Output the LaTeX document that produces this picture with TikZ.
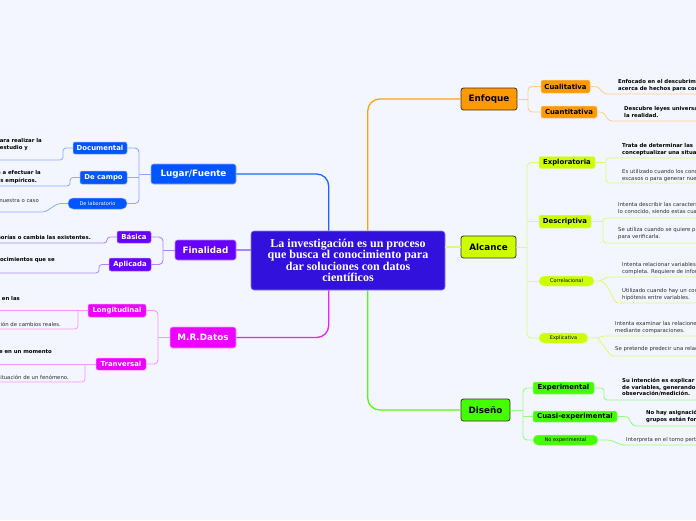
\documentclass[tikz,border=0pt]{standalone}
\usepackage{fontspec}
\setmainfont{DejaVu Sans}
\newfontfamily\cserif{Liberation Serif}
\definecolor{bg}{RGB}{243,246,254}
\definecolor{cen}{RGB}{51,17,221}
\definecolor{cenB}{RGB}{140,120,240}
\definecolor{blu}{RGB}{0,85,255}
\definecolor{bluL}{RGB}{140,170,255}
\definecolor{pur}{RGB}{102,0,255}
\definecolor{purL}{RGB}{175,130,255}
\definecolor{mag}{RGB}{236,0,255}
\definecolor{magL}{RGB}{246,150,255}
\definecolor{ora}{RGB}{255,153,0}
\definecolor{oraL}{RGB}{255,205,145}
\definecolor{yg}{RGB}{204,255,0}
\definecolor{ygL}{RGB}{222,250,120}
\definecolor{grn}{RGB}{68,255,0}
\definecolor{grnL}{RGB}{150,250,130}
\definecolor{dk}{RGB}{60,50,40}
\definecolor{txt}{RGB}{45,45,45}
\tikzset{
  mainbox/.style={rounded corners=2.5pt, inner sep=0pt, line width=0.6pt, font=\fontsize{8.8}{10}\selectfont\bfseries},
  subbox/.style={rounded corners=2pt, inner sep=0pt, line width=0.5pt, font=\fontsize{6.9}{8}\selectfont\bfseries},
  pillbox/.style={rounded corners=5pt, inner sep=0pt, line width=0.5pt, font=\fontsize{5}{6}\selectfont},
  dtxt/.style={inner sep=0pt, align=left, anchor=north west, text=txt, font=\fontsize{5.35}{6.5}\selectfont},
  dtxtb/.style={dtxt, text=black, font=\fontsize{5.35}{6.5}\selectfont\bfseries},
  ltxt/.style={inner sep=0pt, anchor=east, text=txt, font=\fontsize{5.35}{6}\selectfont},
  ltxtb/.style={ltxt, text=black, font=\fontsize{5.35}{6}\selectfont\bfseries},
  mc/.style={line width=1.3pt, rounded corners=12pt},
  sc/.style={line width=0.9pt, rounded corners=4pt},
  dc/.style={line width=0.8pt, rounded corners=3pt}
}
\begin{document}
\begin{tikzpicture}[x=1pt,y=-1pt]
\path[use as bounding box] (0,0) rectangle (696,520);
\clip (0,0) rectangle (696,520);
\fill[bg] (0,0) rectangle (696,520);

% central node
\node[fill=cen, draw=cenB, line width=0.6pt, rounded corners=3pt, minimum width=194pt, minimum height=59pt, inner sep=0pt, text=white, align=center, font=\cserif\bfseries\fontsize{12}{11.5}\selectfont] (center) at (348,260.5) {La investigación es un proceso\\que busca el conocimiento para\\dar soluciones con datos\\científicos};

% main nodes
\node[mainbox, fill=blu, draw=bluL, text=white, minimum width=85pt, minimum height=20pt] (lug) at (193.5,174) {Lugar/Fuente};
\node[mainbox, fill=pur, draw=purL, text=white, minimum width=61pt, minimum height=20pt] (fin) at (205.5,250) {Finalidad};
\node[mainbox, fill=mag, draw=magL, text=white, minimum width=66pt, minimum height=21pt] (mrd) at (203,337.5) {M.R.Datos};
\node[mainbox, fill=ora, draw=dk, line width=0.8pt, text=black, minimum width=56pt, minimum height=22pt] (enf) at (489,99) {Enfoque};
\node[mainbox, fill=yg, draw=dk, line width=0.8pt, text=black, minimum width=55pt, minimum height=22pt] (alc) at (488.5,247) {Alcance};
\node[mainbox, fill=grn, draw=dk, line width=0.8pt, text=black, minimum width=49pt, minimum height=22pt] (dis) at (485.5,410) {Diseño};

% main connectors
\draw[mc, blu!80!bluL] ([xshift=78pt]center.north west) |- (lug.east);
\draw[mc, ora!85!oraL] ([xshift=117pt]center.north west) |- (enf.west);
\draw[mc, mag!80!magL] ([xshift=78pt]center.south west) |- (mrd.east);
\draw[mc, grn!85!grnL] ([xshift=117pt]center.south west) |- (dis.west);
\draw[line width=1.1pt, purL] (fin.east) -- (fin.east -| center.west);
\draw[line width=1.1pt, ygL] (alc.west) -- (alc.west -| center.east);

% sub nodes right
\node[subbox, fill=ora, draw=oraL, minimum width=49pt, minimum height=13pt] (cual) at (565.5,86.5) {Cualitativa};
\node[subbox, fill=ora, draw=oraL, minimum width=56pt, minimum height=12pt] (cuan) at (569,112) {Cuantitativa};
\node[subbox, fill=yg, draw=ygL, minimum width=56pt, minimum height=12pt] (exr) at (567,162.5) {Exploratoria};
\node[subbox, fill=yg, draw=ygL, minimum width=52pt, minimum height=13pt] (des) at (565,221.5) {Descriptiva};
\node[pillbox, fill=yg, draw=ygL, minimum width=55pt, minimum height=10pt] (cor) at (566.5,281) {Correlacional};
\node[pillbox, fill=yg, draw=ygL, minimum width=49pt, minimum height=10pt] (expl) at (563.5,338) {Explicativa};
\node[subbox, fill=grn, draw=grnL, minimum width=61pt, minimum height=12pt] (exper) at (563.5,388) {Experimental};
\node[subbox, fill=grn, draw=grnL, minimum width=84pt, minimum height=11pt] (cuasi) at (575,416.5) {Cuasi-experimental};
\node[pillbox, fill=grn, draw=grnL, minimum width=65pt, minimum height=10pt] (noex) at (565.5,440) {No experimental};

% sub nodes left
\node[subbox, fill=blu, draw=bluL, text=white, minimum width=54pt, minimum height=12pt] (doc) at (100,148) {Documental};
\node[subbox, fill=blu, draw=bluL, text=white, minimum width=47pt, minimum height=13pt] (camp) at (103.5,177.5) {De campo};
\node[pillbox, fill=blu, draw=bluL, text=white, minimum width=59pt, minimum height=11pt] (lab) at (97.5,203.5) {De laboratorio};
\node[subbox, fill=pur, draw=purL, text=white, minimum width=34pt, minimum height=12pt] (bas) at (134,237) {Básica};
\node[subbox, fill=pur, draw=purL, text=white, minimum width=42pt, minimum height=13pt] (apl) at (130,264.5) {Aplicada};
\node[subbox, fill=mag, draw=magL, text=white, minimum width=58pt, minimum height=13pt] (lon) at (117,310.5) {Longitudinal};
\node[subbox, fill=mag, draw=magL, text=white, minimum width=50pt, minimum height=12pt] (tra) at (121,364) {Tranversal};

% bracket coordinates
\coordinate (enfB) at (528,99);
\coordinate (alcB) at (527,247);
\coordinate (disB) at (523,410);
\coordinate (lugB) at (139,174);
\coordinate (finB) at (163,250);
\coordinate (mrB) at (158,337.5);

% brackets
\draw[sc, oraL] (cual.west) -| (enfB) |- (cuan.west);
\draw[sc, oraL] (enf.east) -- (enfB);
\draw[sc, ygL] (exr.west) -| (alcB) |- (expl.west);
\draw[sc, ygL] (des.west) -- (des.west -| alcB);
\draw[sc, ygL] (cor.west) -- (cor.west -| alcB);
\draw[sc, ygL] (alc.east) -- (alcB);
\draw[sc, grnL] (exper.west) -| (disB) |- (noex.west);
\draw[sc, grnL] (cuasi.west) -- (cuasi.west -| disB);
\draw[sc, grnL] (dis.east) -- (disB);
\draw[sc, bluL] (doc.east) -| (lugB) |- (lab.east);
\draw[sc, bluL] (camp.east) -- (camp.east -| lugB);
\draw[sc, bluL] (lug.west) -- (lugB);
\draw[sc, purL] (bas.east) -| (finB) |- (apl.east);
\draw[sc, purL] (fin.west) -- (finB);
\draw[sc, magL] (lon.east) -| (mrB) |- (tra.east);
\draw[sc, magL] (mrd.west) -- (mrB);

% free ends right
\coordinate (cualE) at (700,94);
\coordinate (cuanE) at (700,121);
\coordinate (exrA) at (700,158);
\coordinate (exrB) at (700,183);
\coordinate (desA) at (700,218);
\coordinate (desB) at (700,243);
\coordinate (corA) at (700,277);
\coordinate (corB) at (700,303);
\coordinate (explA) at (700,336);
\coordinate (explB) at (700,356);
\coordinate (experE) at (700,400);
\coordinate (cuasiE) at (700,426);
\coordinate (noexE) at (700,445);

% detail connectors right
\draw[dc, oraL] (cual.east) -- (598,86.5) -- (604,94) -- (cualE);
\draw[dc, oraL] (cuan.east) -- (603,112) -- (609,121) -- (cuanE);
\draw[dc, ygL] (exr.east) -- (606,162.5);
\draw[dc, ygL] (exrA) -| (606,170) |- (exrB);
\draw[dc, ygL] (des.east) -- (603,221.5);
\draw[dc, ygL] (desA) -| (603,230) |- (desB);
\draw[dc, ygL] (cor.east) -- (601,281) -- (606,277) -- (corA);
\draw[dc, ygL] (601,281) -- (606,284) -- (616,303) -- (corB);
\draw[dc, ygL] (expl.east) -- (598,338) -- (602,336) -- (explA);
\draw[dc, ygL] (598,338) -- (611,356) -- (explB);
\draw[dc, grnL] (exper.east) -- (604,388) |- (experE);
\draw[dc, grnL] (cuasi.east) -- (628,416.5) -- (633,426) -- (cuasiE);
\draw[dc, grnL] (noex.east) -- (610,440) -- (622,445) -- (noexE);

% free ends left
\coordinate (docE) at (-5,160);
\coordinate (campE) at (-5,186);
\coordinate (labE) at (-5,212);
\coordinate (basE) at (-5,243);
\coordinate (aplE) at (-5,273);
\coordinate (lonA) at (-5,310.5);
\coordinate (lonB) at (-5,329);
\coordinate (traA) at (-5,364);
\coordinate (traB) at (-5,382);

% detail connectors left
\draw[dc, bluL] (doc.west) -- (63,148) |- (docE);
\draw[dc, bluL] (camp.west) -- (70,177.5) |- (campE);
\draw[dc, bluL] (lab.west) -- (58,203.5) -- (45,212) -- (labE);
\draw[dc, purL] (bas.west) -- (107,237) |- (basE);
\draw[dc, purL] (apl.west) -- (99,264.5) |- (aplE);
\draw[dc, magL] (lon.west) -- (lonA);
\draw[dc, magL] (78,310.5) |- (lonB);
\draw[dc, magL] (tra.west) -- (traA);
\draw[dc, magL] (85,364) |- (traB);

% detail texts right
\node[dtxtb] (tcual) at (618,79.5) {Enfocado en el descubrimiento\\acerca de hechos para comprender};
\node[dtxtb] (tcuan) at (624,106.5) {Descubre leyes universales\\la realidad.};
\node[dtxtb] (texr1) at (622,143.5) {Trata de determinar las\\conceptualizar una situación};
\node[dtxt] (texr2) at (622,169.5) {Es utilizado cuando los conocimientos\\escasos o para generar nuevas};
\node[dtxt] (tdes1) at (618,202.5) {Intenta describir las características\\lo conocido, siendo estas cualidades};
\node[dtxt] (tdes2) at (618,227.5) {Se utiliza cuando se quiere probar\\para verificarla.};
\node[dtxt] (tcor1) at (622,262.5) {Intenta relacionar variables\\completa. Requiere de información};
\node[dtxt] (tcor2) at (622,288.5) {Utilizado cuando hay un conocimiento\\hipótesis entre variables.};
\node[dtxt] (texpl1) at (615,321.5) {Intenta examinar las relaciones\\mediante comparaciones.};
\node[dtxt] (texpl2) at (615,346.5) {Se pretende predecir una relación};
\node[dtxtb] (texper) at (622,378.5) {Su intención es explicar\\de variables, generando\\observación/medición.};
\node[dtxtb] (tcuasi) at (646,410.5) {No hay asignación aleatoria\\grupos están formados};
\node[dtxt] (tnoex) at (626,437.5) {Interpreta en el torno pertinente};

% detail texts left
\node[ltxtb] (tdoc1) at (42,141) {para realizar la};
\node[ltxtb] (tdoc2) at (28,148) {de estudio y};
\node[ltxtb] (tcamp1) at (41,173) {Se dirige a efectuar la};
\node[ltxtb] (tcamp2) at (37,181) {datos empíricos.};
\node[ltxt] (tlab) at (39,201) {una muestra o caso};
\node[ltxtb] (tbas) at (91,237) {teorías o cambia las existentes.};
\node[ltxtb] (tapl) at (55,260) {conocimientos que se};
\node[ltxtb] (tlon1) at (20,298) {cambios en las};
\node[ltxt] (tlon2) at (61,324) {observación de cambios reales.};
\node[ltxtb] (ttra1) at (52,351) {la variable en un momento};
\node[ltxt] (ttra2) at (69,377) {la situación de un fenómeno.};
\end{tikzpicture}
\end{document}
